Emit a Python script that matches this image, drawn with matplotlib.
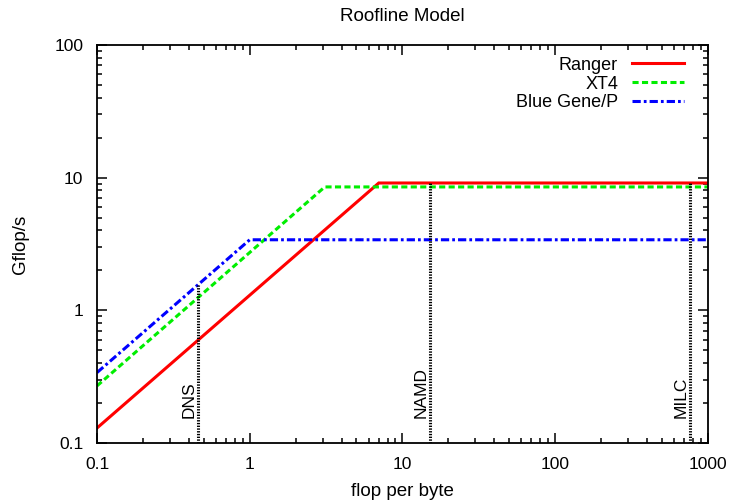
import matplotlib
matplotlib.use('Agg')
import matplotlib.pyplot as plt
from matplotlib.ticker import FixedLocator, FixedFormatter, LogLocator, NullFormatter

plt.rcParams['font.family'] = ['Liberation Sans', 'DejaVu Sans']
plt.rcParams['font.size'] = 13

# roofline vertices (flop/byte, Gflop/s)
ranger_x = [0.1, 7.0, 1000]
ranger_y = [0.13, 9.1, 9.1]
xt4_x = [0.1, 3.1, 1000]
xt4_y = [0.27, 8.5, 8.5]
bgp_x = [0.1, 1.0, 1000]
bgp_y = [0.34, 3.4, 3.4]

# application kernels: arithmetic intensity and top of the marker line
kernel_names = ['DNS', 'NAMD', 'MILC']
kernel_x = [0.46, 15.2, 760]
kernel_top = [1.56, 9.1, 9.1]

tick_vals = [0.1, 1, 10, 100, 1000]
xtick_labels = ['0.1', '1', '10', '100', '1000']
ytick_vals = [0.1, 1, 10, 100]
ytick_labels = ['0.1', '1', '10', '100']

fig = plt.figure(figsize=(7.35, 5.03), dpi=100)
ax = fig.add_axes([0.132, 0.119, 0.831, 0.792])

ax.plot(ranger_x, ranger_y, color='#ff0000', lw=2.2, label='Ranger', solid_joinstyle='miter')
ax.plot(xt4_x, xt4_y, color='#00ee00', lw=2.2, ls=(0, (2.0, 1.1)), label='XT4')
ax.plot(bgp_x, bgp_y, color='#0000ff', lw=2.2, ls=(0, (2.7, 1.0, 0.9, 1.0)), label='Blue Gene/P')

for name, kx, top in zip(kernel_names, kernel_x, kernel_top):
    ax.plot([kx, kx], [0.1, top], color='black', lw=2.2, ls=(0, (0.45, 0.45)))
    ax.annotate(name, xy=(kx, 0.155), xytext=(-1, 0), textcoords='offset points',
                rotation=90, ha='right', va='bottom', fontsize=12.5)

ax.set_xscale('log')
ax.set_yscale('log')
ax.set_xlim(0.1, 1000)
ax.set_ylim(0.1, 100)

ax.xaxis.set_major_locator(FixedLocator(tick_vals))
ax.xaxis.set_major_formatter(FixedFormatter(xtick_labels))
ax.yaxis.set_major_locator(FixedLocator(ytick_vals))
ax.yaxis.set_major_formatter(FixedFormatter(ytick_labels))
ax.xaxis.set_minor_locator(LogLocator(base=10, subs=range(2, 10)))
ax.yaxis.set_minor_locator(LogLocator(base=10, subs=range(2, 10)))
ax.xaxis.set_minor_formatter(NullFormatter())
ax.yaxis.set_minor_formatter(NullFormatter())

ax.tick_params(which='both', direction='in', top=True, right=True, width=1.1)
ax.tick_params(which='major', length=7, labelsize=12.5, pad=10)
ax.tick_params(which='minor', length=3.5)
for s in ax.spines.values():
    s.set_linewidth(1.3)

ax.set_title('Roofline Model', fontsize=13.5, pad=17)
ax.set_xlabel('flop per byte', fontsize=13.5, labelpad=8)
ax.set_ylabel('Gflop/s', fontsize=13.5, labelpad=18)

ax.legend(loc='upper right', frameon=False, markerfirst=False, fontsize=13,
          handlelength=2.9, handletextpad=0.75, labelspacing=0.1,
          borderpad=0, borderaxespad=0, bbox_to_anchor=(0.961, 0.97))

fig.savefig('out.png', dpi=100)
